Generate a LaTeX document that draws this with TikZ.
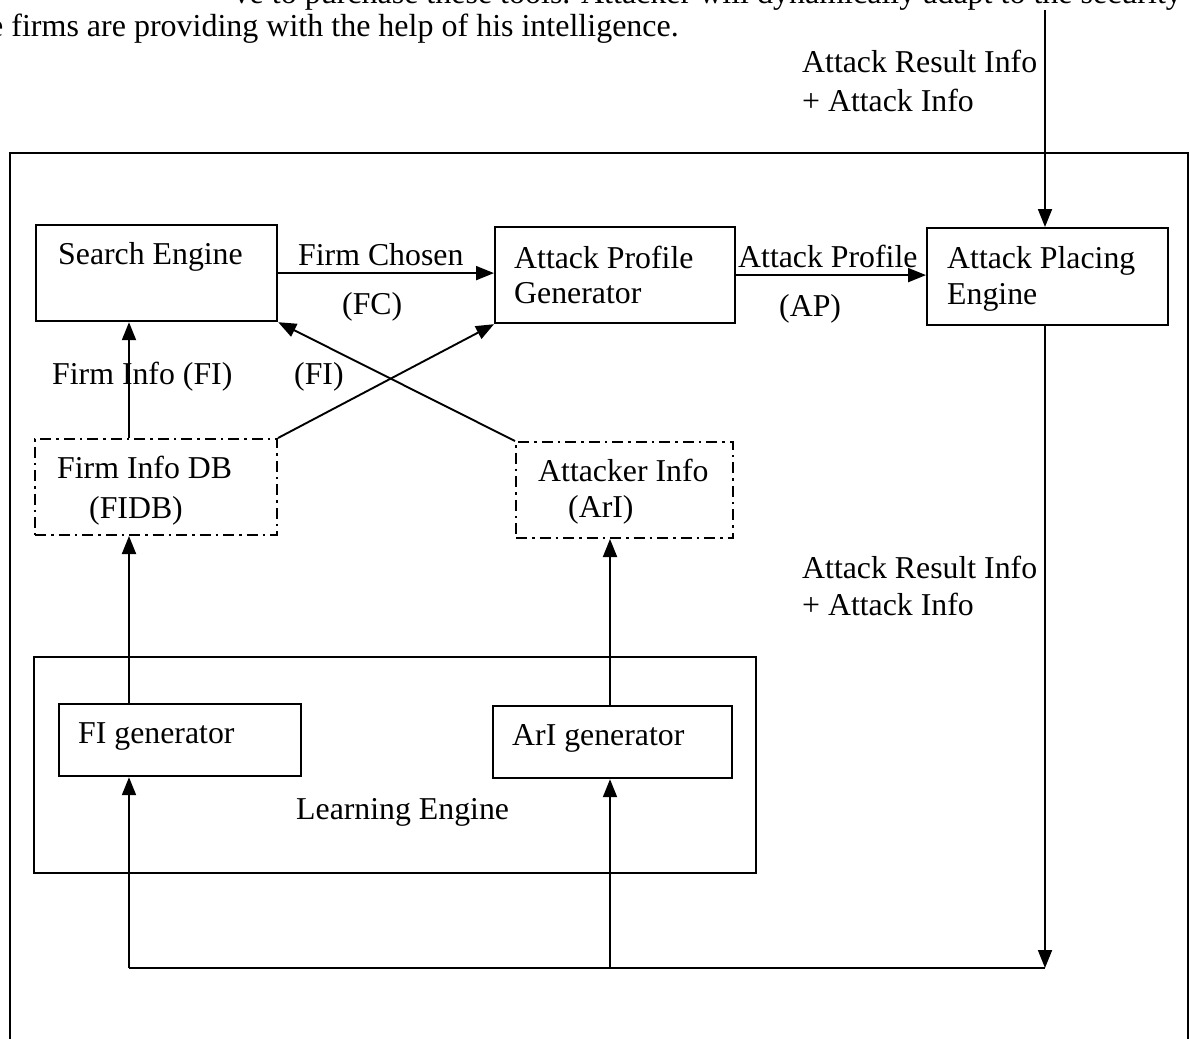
\documentclass[tikz,border=0pt]{standalone}
\usepackage{fontspec}
\setmainfont{Liberation Serif}
\usetikzlibrary{arrows.meta}
\begin{document}
\begin{tikzpicture}[x=1pt,y=-1pt,
  box/.style={draw, line width=2.2pt, rectangle, inner sep=0pt, anchor=north west},
  dbox/.style={box, line width=2pt, dash pattern=on 11pt off 5pt on 2.5pt off 5pt},
  lbl/.style={inner sep=0pt, anchor=base west, font=\fontsize{31.8}{36}\selectfont},
  body/.style={inner sep=0pt, anchor=base east, font=\fontsize{32}{36}\selectfont},
  arr/.style={line width=1.9pt, -{Triangle[length=18pt,width=14pt]}},
  wire/.style={line width=1.9pt}]
\useasboundingbox (0,0) rectangle (1190,1038);
\fill[white] (0,0) rectangle (1190,1038);

% running text of the page above the figure
\node[body] (para1) at (1182,4) {ve to purchase these tools. Attacker will dynamically adapt to the security};
\node[body] (para2) at (679,37) {the firms are providing with the help of his intelligence.};

% outer frame
\draw[line width=2.2pt] (10,153) rectangle (1188,1100);

% blocks
\node[box, minimum width=241pt, minimum height=96pt] (se) at (35,224) {};
\node[box, minimum width=240pt, minimum height=96pt] (apg) at (494,226) {};
\node[box, minimum width=241pt, minimum height=97pt] (ape) at (926,227) {};
\node[dbox, minimum width=242pt, minimum height=96pt] (fidb) at (34,438) {};
\node[dbox, minimum width=217pt, minimum height=96pt] (ari) at (515,441) {};
\node[box, minimum width=722pt, minimum height=216pt] (learn) at (33,656) {};
\node[box, minimum width=242pt, minimum height=72pt] (figen) at (58,703) {};
\node[box, minimum width=239pt, minimum height=72pt] (arigen) at (492,705) {};

% block texts
\node[lbl] (tse) at (58,264) {Search Engine};
\node[lbl] (tapg1) at (514,268) {Attack Profile};
\node[lbl] (tapg2) at (514,303) {Generator};
\node[lbl] (tape1) at (947,268) {Attack Placing};
\node[lbl] (tape2) at (947,304) {Engine};
\node[lbl] (tfidb1) at (57,478) {Firm Info DB};
\node[lbl] (tfidb2) at (89,518) {(FIDB)};
\node[lbl] (tari1) at (538,481) {Attacker Info};
\node[lbl] (tari2) at (568,517) {(ArI)};
\node[lbl] (tfigen) at (78,743) {FI generator};
\node[lbl] (tarigen) at (512,745) {ArI generator};
\node[lbl] (tlearn) at (296,819) {Learning Engine};

% connector labels
\node[lbl] (lfc1) at (298,265) {Firm Chosen};
\node[lbl] (lfc2) at (342,314) {(FC)};
\node[lbl] (lap1) at (738,267) {Attack Profile};
\node[lbl] (lap2) at (779,316) {(AP)};
\node[lbl] (lfi1) at (52,384) {Firm Info (FI)};
\node[lbl] (lfi2) at (294,384) {(FI)};
\node[lbl] (lres1) at (802,73) {Attack Result Info};
\node[lbl] (lres2) at (802,111) {+ Attack Info};
\node[lbl] (lres3) at (802,578) {Attack Result Info};
\node[lbl] (lres4) at (802,615) {+ Attack Info};

% routing points
\coordinate (fbin) at (1045,10);
\coordinate (fbcorner) at (1045,968);
\coordinate (fiturn) at (129,968);
\coordinate (arturn) at (610,968);

% connectors
\draw[arr] (fbin) -- (fbin |- ape.north);
\draw[arr] (se.east) -- (se.east -| apg.west);
\draw[arr] (apg.east) -- (apg.east -| ape.west);
\draw[arr] (fidb.north -| fiturn) -- (se.south -| fiturn);
\draw[arr] (fidb.north east) -- (apg.south west);
\draw[arr] (ari.north west) -- (se.south east);
\draw[arr] (figen.north -| fiturn) -- (fidb.south -| fiturn);
\draw[arr] (arigen.north -| arturn) -- (ari.south -| arturn);
\draw[arr] (ape.south -| fbcorner) -- (fbcorner);
\draw[wire] (fbcorner) -- (fiturn);
\draw[arr] (fiturn) -- (fiturn |- figen.south);
\draw[arr] (arturn) -- (arturn |- arigen.south);
\end{tikzpicture}
\end{document}
